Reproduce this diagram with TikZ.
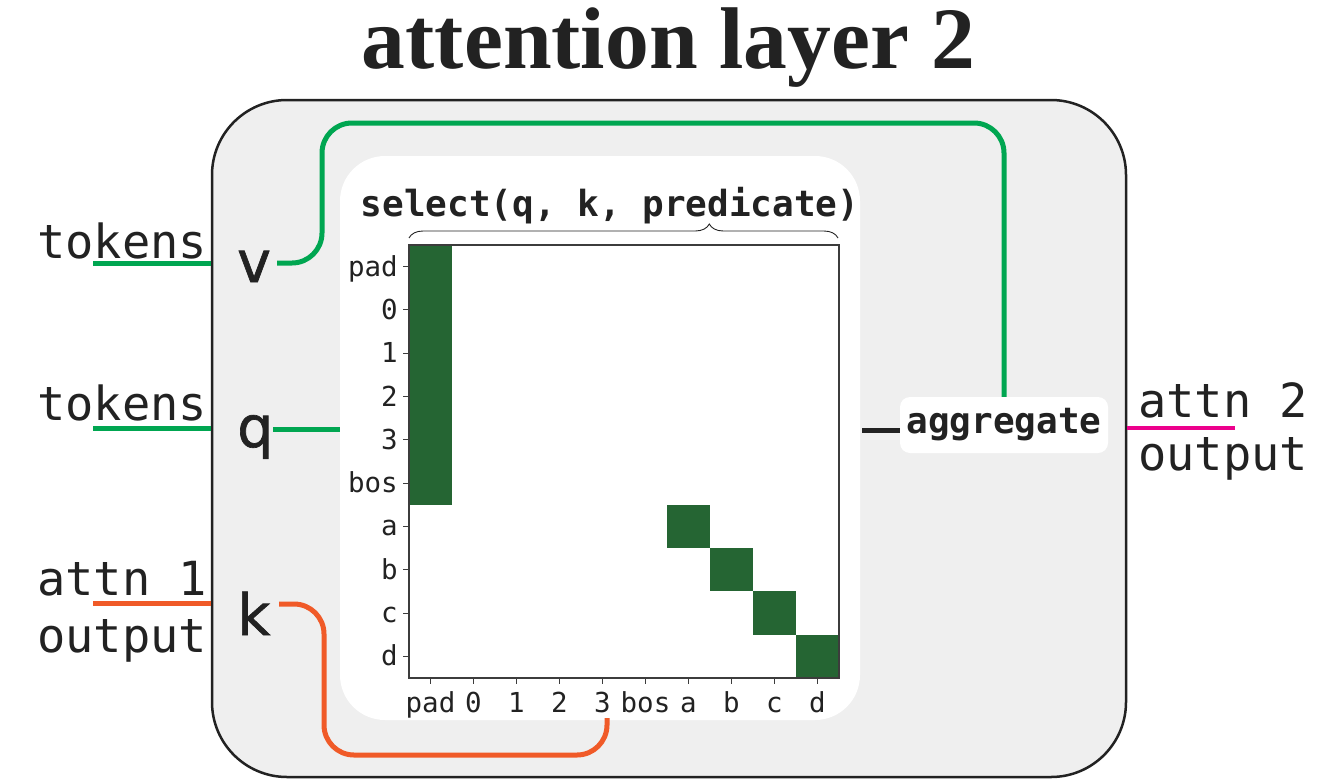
\documentclass[tikz,border=0pt]{standalone}
\usepackage{fontspec}
\setmainfont{DejaVu Sans}
\setsansfont{DejaVu Sans}
\setmonofont{DejaVu Sans Mono}
\newfontfamily\titlefont{Liberation Serif}
\newfontfamily\portfont[FakeBold=1.2]{DejaVu Sans}
\usetikzlibrary{decorations.pathreplacing}
\definecolor{ink}{RGB}{34,34,34}
\definecolor{wgreen}{RGB}{0,166,81}
\definecolor{worange}{RGB}{240,90,40}
\definecolor{wmagenta}{RGB}{236,0,140}
\definecolor{cellgreen}{RGB}{37,101,51}
\definecolor{panel}{RGB}{239,239,239}
\definecolor{axisgray}{RGB}{60,60,60}
\begin{document}
\begin{tikzpicture}[x=1pt,y=-1pt,
  lbl/.style={inner sep=0pt, anchor=base west, text=ink, font=\fontsize{47}{50}\selectfont\ttfamily},
  port/.style={inner sep=0pt, anchor=base west, text=ink, font=\fontsize{57}{60}\selectfont\portfont},
  ticklbl/.style={inner sep=0pt, text=ink, font=\fontsize{27.5}{30}\selectfont\ttfamily},
  boldmono/.style={text=ink, font=\fontsize{36}{38}\selectfont\ttfamily\bfseries},
  wire/.style={line width=5pt},
]
\useasboundingbox (0,0) rectangle (1332,779);
\fill[white] (0,0) rectangle (1332,779);

% title
\node[inner sep=0pt, anchor=base, text=ink] (title) at (668.5,68)
  {\resizebox{613pt}{!}{\fontsize{87}{90}\selectfont\titlefont\bfseries attention layer 2}};

% outer panel
\node[draw=ink, fill=panel, line width=2.5pt, rounded corners=75pt,
      minimum width=914pt, minimum height=677pt, inner sep=0pt] (panel) at (669,438.5) {};

% left labels
\node[lbl] (tokv) at (37,258) {tokens};
\node[lbl] (tokq) at (37,420) {tokens};
\node[lbl] (attn1a) at (37,595) {attn 1};
\node[lbl] (attn1b) at (37,652) {output};

% right labels
\node[lbl] (attn2a) at (1138,417) {attn 2};
\node[lbl] (attn2b) at (1138,470) {output};

% ports
\node[port] (v) at (237,282) {v};
\node[port] (q) at (237,447) {q};
\node[port] (k) at (237,635) {k};

% coordinates for wires
\coordinate (vin) at (93,263);
\coordinate (qin) at (93,428);
\coordinate (kin) at (93,603);
\coordinate (vout) at (277,263);
\coordinate (qout) at (273,429);
\coordinate (kout) at (279,604);
\coordinate (outR) at (1235,428);

% input wires
\draw[wire, wgreen] (vin) -- (vin -| panel.west);
\draw[wire, wgreen] (qin) -- (qin -| panel.west);
\draw[wire, worange] (kin) -- (kin -| panel.west);
\draw[line width=4.5pt, wmagenta] (outR -| panel.east) -- (outR);

% aggregate node
\node[fill=white, rounded corners=10pt, minimum width=208pt, minimum height=56pt,
      inner sep=0pt, boldmono] (agg) at (1004,425) {aggregate};

% v wire
\draw[wire, wgreen, rounded corners=30pt] (vout) -- (322,263) -- (322,123) -| (agg.north);

% inner white box
\node[fill=white, rounded corners=45pt, minimum width=520pt, minimum height=564pt,
      inner sep=0pt] (sel) at (600,438) {};

% k wire
\coordinate (kend) at (607,718);
\draw[wire, worange, rounded corners=30pt] (kout) -- (324,604) -- (324,755) -| (kend);

% q wire
\draw[wire, wgreen] (qout) -- (qout -| sel.west);

% aggregate input
\coordinate (aggl) at (862,430);
\draw[line width=5pt, ink] (aggl) -- (aggl -| agg.west);

% select label
\node[boldmono, inner sep=0pt, anchor=base] (seltxt) at (610,216) {select(q, k, predicate)};

% brace
\draw[decorate, decoration={brace, amplitude=14pt, aspect=0.7}, line width=0.9pt, ink]
  (409,238) -- (838,238);

% heatmap cells
\fill[cellgreen] (409,245) rectangle (452,504.8);
\foreach \i in {6,...,9}{
  \fill[cellgreen] ({409+43*\i},{245+43.3*\i}) rectangle ({409+43*(\i+1)},{245+43.3*(\i+1)});
}

% ticks and labels
\foreach \lab [count=\n from 0] in {pad,0,1,2,3,bos,a,b,c,d}{
  \pgfmathsetmacro{\yc}{245+43.3*(\n+0.5)}
  \pgfmathsetmacro{\xc}{409+43*(\n+0.5)}
  \draw[axisgray, line width=1pt] (403,\yc) -- (409,\yc);
  \draw[axisgray, line width=1pt] (\xc,678) -- (\xc,684);
  \node[ticklbl, anchor=base east] (ylab-\n) at (398,\yc+9.5) {\lab};
  \node[ticklbl, anchor=base] (xlab-\n) at (\xc,712) {\lab};
}

% frame
\draw[axisgray, line width=1.2pt] (409,245) rectangle (839,678);

\end{tikzpicture}
\end{document}
